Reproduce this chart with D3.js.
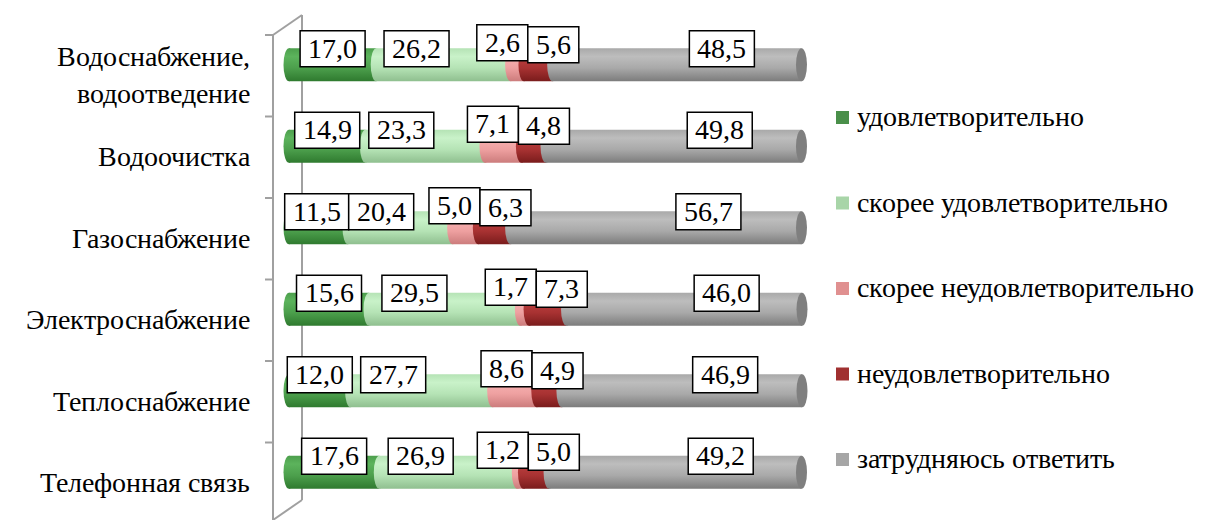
<!DOCTYPE html>
<html><head><meta charset="utf-8">
<script src="https://cdn.jsdelivr.net/npm/d3@7"></script>
<style>
@font-face { font-family: "RefSerif"; src: local("Liberation Serif"), local("LiberationSerif"), local("Tinos"), local("Tinos-Regular"); }
body { margin: 0; }
svg text { font-family: "RefSerif", "Liberation Serif", Tinos, serif; }
</style>
</head><body>
<script>
const categories = ["Водоснабжение,\nводоотведение","Водоочистка","Газоснабжение","Электроснабжение","Теплоснабжение","Телефонная связь"];
const seriesNames = ["удовлетворительно","скорее удовлетворительно","скорее неудовлетворительно","неудовлетворительно","затрудняюсь ответить"];
const satisfactory      = [17.0,14.9,11.5,15.6,12.0,17.6];
const ratherSatisfactory= [26.2,23.3,20.4,29.5,27.7,26.9];
const ratherUnsatisf    = [2.6,7.1,5.0,1.7,8.6,1.2];
const unsatisfactory    = [5.6,4.8,6.3,7.3,4.9,5.0];
const hardToSay         = [48.5,49.8,56.7,46.0,46.9,49.2];
const seriesValues = [satisfactory, ratherSatisfactory, ratherUnsatisf, unsatisfactory, hardToSay];

const legendColors = ["#4a8f4a","#a8d5a8","#e09090","#a03030","#a6a6a6"];
const shades = [
  ["#5cb35c","#4c9f4c","#2f7a2f"],
  ["#c9f2c9","#b5e3b5","#8fbf8f"],
  ["#f7b2b2","#eea0a0","#cc7c7c"],
  ["#bb4040","#a83232","#7a1c1c"],
  ["#bdbdbd","#a9a9a9","#7c7c7c"]
];
const labelAnchor = [0.5, 0.3, 0.5, 0.5, 0.68];
const labelRaise = [0, 0, 6, 4, 0];

const W = 1220, H = 520;
const FONT = "RefSerif, 'Liberation Serif', Tinos, serif";
const fs = 28;
const svg = d3.select("body").append("svg").attr("width", W).attr("height", H).style("display", "block");
const defs = svg.append("defs");
shades.forEach((s, i) => {
  const g = defs.append("linearGradient").attr("id", "g" + i).attr("x1", 0).attr("y1", 0).attr("x2", 0).attr("y2", 1);
  g.append("stop").attr("offset", "0%").attr("stop-color", s[1]);
  g.append("stop").attr("offset", "25%").attr("stop-color", s[0]);
  g.append("stop").attr("offset", "60%").attr("stop-color", s[1]);
  g.append("stop").attr("offset", "100%").attr("stop-color", s[2]);
});

const x = d3.scaleLinear().domain([0, 100]).range([289, 802]);
const y = d3.scaleBand().domain(d3.range(categories.length)).range([35, 524]);
const depth = 11;
const barH = 33;
const rx = 5.5;

// axis wall
const axisCol = "#a0a0a0";
const ax = svg.append("g").attr("stroke", axisCol).attr("stroke-width", 2).attr("fill", "none");
const front = 273, back = 302, topF = y.range()[0], botF = y.range()[1] - 4;
ax.append("line").attr("x1", front).attr("x2", front).attr("y1", topF).attr("y2", botF);
ax.append("line").attr("x1", back).attr("x2", back).attr("y1", topF - 20).attr("y2", botF - 20);
ax.append("line").attr("x1", front).attr("x2", back).attr("y1", topF).attr("y2", topF - 20);
ax.append("line").attr("x1", front).attr("x2", back).attr("y1", botF).attr("y2", botF - 20);
d3.range(categories.length).forEach(i => {
  ax.append("line").attr("x1", front - 8).attr("x2", front).attr("y1", y(i)).attr("y2", y(i));
});

function txt(sel) {
  return sel.append("text").style("font-family", FONT).attr("font-size", fs).attr("fill", "#000");
}

// category labels
categories.forEach((c, i) => {
  const lines = c.split("\n");
  const cy = y(i) + y.bandwidth() / 2;
  lines.forEach((l, k) => {
    txt(svg).attr("x", 250).attr("text-anchor", "end")
      .attr("y", cy + 9 + (k - (lines.length - 1) / 2) * 37).text(l);
  });
});

// bars
const fmt = v => v.toFixed(1).replace(".", ",");
categories.forEach((c, i) => {
  const cy = y(i) + y.bandwidth() / 2 - depth;
  const g = svg.append("g");
  let cum = 0;
  const segs = seriesValues.map((arr, s) => {
    const v = arr[i]; const s0 = cum; cum += v;
    return {s, v, x0: x(s0), x1: x(Math.min(cum, 100))};
  });
  segs.forEach(d => {
    g.append("rect").attr("x", d.x0).attr("y", cy - barH / 2).attr("width", Math.max(0, d.x1 - d.x0)).attr("height", barH)
      .attr("fill", "url(#g" + d.s + ")");
    g.append("ellipse").attr("cx", d.x0).attr("cy", cy).attr("rx", rx).attr("ry", barH / 2)
      .attr("fill", "url(#g" + d.s + ")");
  });
  const last = segs[segs.length - 1];
  g.append("ellipse").attr("cx", last.x1).attr("cy", cy).attr("rx", rx).attr("ry", barH / 2)
    .attr("fill", "#7f7f7f");

  // labels
  const labs = segs.map(d => {
    const t = txt(g).attr("text-anchor", "middle").text(fmt(d.v));
    const w = t.node().getComputedTextLength() + 16;
    return {d, t, w, cx: d.x0 + (d.x1 - d.x0) * labelAnchor[d.s]};
  });
  for (let it = 0; it < 30; it++) {
    for (let k = 1; k < labs.length; k++) {
      const a = labs[k - 1], b = labs[k];
      const ov = (a.cx + a.w / 2) - (b.cx - b.w / 2);
      if (ov > 0) { a.cx -= ov / 2; b.cx += ov / 2; }
    }
  }
  labs.forEach(l => {
    const top = cy - 34 - labelRaise[l.d.s];
    g.insert("rect", () => l.t.node()).attr("x", l.cx - l.w / 2).attr("y", top).attr("width", l.w).attr("height", 36)
      .attr("fill", "#fff").attr("stroke", "#000").attr("stroke-width", 1.5);
    l.t.attr("x", l.cx).attr("y", top + 27);
  });
});

// legend
seriesNames.forEach((n, i) => {
  const ly = 117 + i * 85.5;
  svg.append("rect").attr("x", 836).attr("y", ly - 6).attr("width", 13).attr("height", 13).attr("fill", legendColors[i]);
  txt(svg).attr("x", 857).attr("y", ly + 9).text(n);
});
</script>
</body></html>
